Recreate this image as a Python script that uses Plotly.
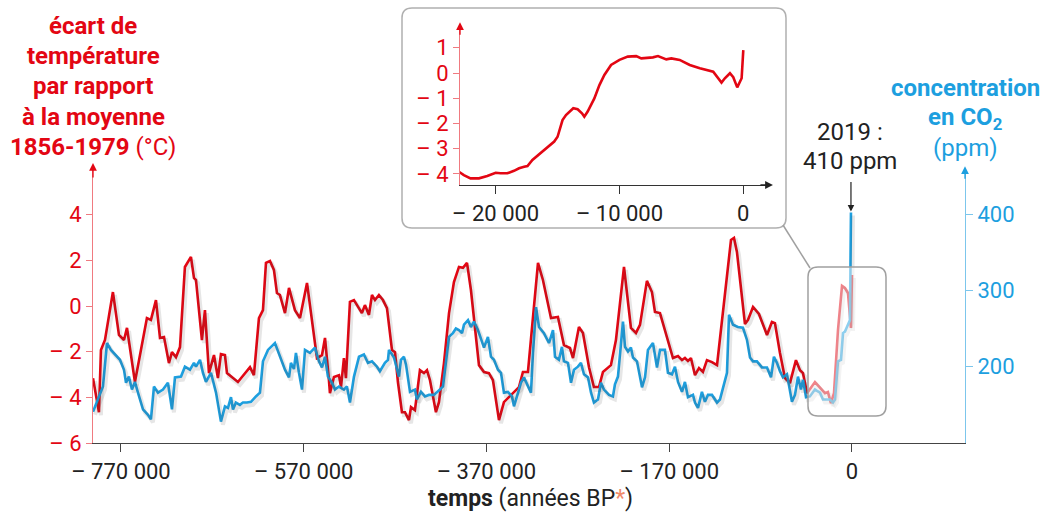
import plotly.graph_objects as go

# ---------------- data ----------------
# main chart: time in thousands of years (position on the drawn time axis)
temp_t = [-830.6, -824.1, -821.9, -817.5, -808.8, -802.2, -796.7, -793.4, -784.7, -778.1,
          -771.6, -767.2, -761.7, -757.3, -752.9, -747.5, -744.2, -739.8, -735.4, -730.0,
          -723.4, -720.1, -717.9, -711.4, -708.1, -703.7, -698.2, -693.9, -690.6, -686.2,
          -684.0, -672.0, -664.3, -658.8, -654.5, -649.0, -644.6, -641.3, -636.9, -632.6,
          -629.3, -626.0, -620.5, -616.1, -609.6, -604.1, -596.4, -591.0, -585.5, -580.0,
          -576.7, -572.4, -571.3, -566.9, -561.4, -559.2, -556.0, -553.8, -549.4, -545.0,
          -536.3, -533.0, -528.6, -525.3, -522.0, -517.7, -513.3, -508.9, -505.6, -503.4,
          -500.1, -496.9, -492.5, -489.2, -484.8, -482.6, -478.3, -472.8, -468.4, -465.1,
          -461.8, -455.3, -452.0, -446.5, -441.0, -435.6, -430.1, -425.7, -421.3, -417.0,
          -408.2, -402.7, -397.3, -392.9, -386.3, -380.9, -375.4, -364.4, -360.1, -354.6,
          -343.6, -338.2, -329.4, -321.8, -315.2, -308.6, -305.3, -298.8, -294.4, -287.8,
          -282.4, -276.9, -272.5, -263.8, -258.3, -249.5, -241.9, -236.4, -232.0, -224.4,
          -218.9, -215.6, -210.1, -202.5, -195.9, -190.4, -186.0, -182.8, -179.5, -176.2,
          -171.8, -167.4, -163.1, -158.7, -153.2, -147.7, -139.0, -132.4, -129.1, -125.9,
          -117.1, -113.8, -108.3, -101.8, -93.0, -87.6, -84.3, -78.8, -73.3, -67.9,
          -61.3, -56.9, -53.6, -49.2, -40.5, -35.0, -29.5, -26.3, -23.0, -19.7,
          -15.3, -10.9, -7.7, -4.4, -1.1, 0.0]
temp_v = [-3.16, -4.65, -1.93, -1.49, 0.61, -1.27, -1.49, -0.96, -3.33, -1.84,
          -0.53, -0.61, 0.26, -1.40, -1.36, -2.50, -2.02, -2.24, -1.80, 1.71,
          2.15, 1.23, 1.14, -1.49, -0.18, -2.94, -2.15, -3.16, -2.11, -2.15,
          -2.94, -3.33, -2.94, -2.68, -3.03, -0.53, -0.18, 1.89, 1.97, 1.58,
          0.57, 0.48, -0.31, 0.79, -0.18, -0.53, 1.01, -0.75, -2.28, -2.15,
          -1.40, -3.25, -3.82, -3.11, -3.03, -3.55, -2.28, -3.16, 0.18, 0.26,
          -0.31, 0.04, -0.39, 0.48, 0.26, 0.48, 0.26, -0.09, -1.05, -1.93,
          -2.02, -3.33, -4.65, -4.65, -5.00, -4.43, -4.56, -2.81, -2.94, -2.81,
          -3.25, -4.65, -4.21, -2.50, -0.31, 1.05, 1.71, 1.67, 1.89, 0.70,
          -2.59, -2.89, -2.94, -3.25, -5.00, -4.21, -3.99, -3.55, -2.89, -2.89,
          1.89, 1.14, -0.53, -0.48, -1.71, -1.84, -2.28, -0.92, -1.18, -2.68,
          -3.55, -3.55, -2.89, -2.59, -1.49, 1.71, -0.96, -1.18, -0.83, 1.10,
          0.61, -0.26, -0.31, -1.40, -2.28, -2.19, -2.37, -2.28, -2.41, -2.28,
          -3.03, -2.72, -2.89, -2.37, -2.46, -2.59, 0.48, 2.89, 2.98, 2.37,
          -0.79, -0.61, -0.04, -0.35, -1.27, -0.70, -0.75, -2.06, -3.16, -3.38,
          -2.37, -2.81, -2.94, -3.82, -3.33, -3.60, -3.82, -3.77, -4.25, -3.82,
          -1.05, 0.88, 0.79, 0.57, -0.96, 1.36]

co2_t = [-830.6, -825.2, -819.7, -815.3, -811.0, -801.1, -796.7, -794.5, -791.3, -788.0,
         -784.7, -781.4, -775.9, -770.5, -767.2, -763.9, -759.5, -754.0, -748.6, -744.2,
         -740.9, -734.3, -730.0, -724.5, -720.1, -717.9, -713.5, -710.3, -707.0, -701.5,
         -696.0, -690.6, -686.2, -682.9, -679.6, -677.4, -674.2, -669.8, -666.5, -662.1,
         -657.7, -652.3, -647.9, -644.6, -639.1, -631.5, -626.0, -620.5, -616.1, -614.0,
         -610.7, -608.5, -605.2, -601.9, -598.6, -593.2, -587.7, -583.3, -580.0, -576.7,
         -573.5, -569.1, -565.8, -561.4, -556.0, -552.7, -549.4, -545.0, -539.5, -534.1,
         -529.7, -525.3, -519.8, -516.6, -511.1, -507.8, -506.7, -501.2, -495.8, -493.6,
         -490.3, -488.1, -483.7, -478.3, -476.1, -471.7, -467.3, -462.9, -457.5, -454.2,
         -450.9, -447.6, -444.3, -441.0, -436.7, -433.4, -430.1, -426.8, -424.6, -420.2,
         -417.0, -413.7, -409.3, -406.0, -402.7, -398.4, -395.1, -391.8, -387.4, -384.1,
         -380.9, -376.5, -372.1, -369.9, -365.5, -362.2, -359.0, -354.6, -351.3, -349.1,
         -345.8, -342.5, -337.1, -331.6, -327.2, -325.0, -320.7, -317.4, -315.2, -310.8,
         -307.5, -304.2, -299.9, -296.6, -293.3, -288.9, -285.6, -282.4, -278.0, -274.7,
         -271.4, -265.9, -261.6, -259.4, -256.1, -250.6, -248.4, -245.1, -241.9, -239.7,
         -235.3, -229.8, -226.5, -223.3, -217.8, -213.4, -210.1, -204.7, -201.4, -197.0,
         -193.7, -190.4, -186.0, -182.8, -179.5, -174.0, -171.8, -168.5, -164.2, -160.9,
         -157.6, -153.2, -147.7, -144.5, -141.2, -136.8, -134.6, -130.2, -124.8, -119.3,
         -114.9, -111.6, -108.3, -104.0, -98.5, -93.0, -88.6, -85.4, -82.1, -78.8,
         -75.5, -71.1, -65.7, -62.4, -59.1, -55.8, -53.6, -50.3, -46.0, -40.5,
         -35.0, -31.7, -27.4, -24.1, -20.8, -18.6, -15.3, -12.0, -9.8, -7.7,
         -5.5, -4.4, -2.2, -1.1]
co2_v = [141, 157, 174, 231, 222, 209, 196, 179, 187, 170,
         180, 166, 144, 137, 131, 174, 166, 170, 179, 144,
         186, 187, 200, 196, 205, 200, 209, 192, 180, 192,
         166, 128, 148, 146, 160, 144, 153, 150, 153, 153,
         154, 161, 166, 207, 222, 231, 212, 196, 186, 205,
         197, 218, 192, 170, 222, 218, 225, 207, 199, 213,
         187, 179, 170, 174, 170, 174, 153, 187, 213, 216,
         205, 207, 200, 194, 205, 209, 222, 212, 187, 209,
         213, 203, 167, 170, 157, 167, 161, 163, 163, 166,
         170, 174, 205, 239, 244, 250, 248, 244, 255, 261,
         252, 259, 248, 235, 225, 239, 213, 209, 196, 192,
         166, 167, 161, 148, 166, 179, 186, 174, 166, 218,
         278, 252, 244, 231, 248, 213, 209, 226, 207, 205,
         179, 196, 200, 205, 190, 186, 166, 153, 157, 179,
         170, 163, 161, 177, 187, 259, 226, 220, 225, 212,
         207, 173, 186, 222, 231, 199, 222, 222, 192, 190,
         200, 180, 167, 180, 160, 163, 153, 146, 167, 154,
         163, 163, 153, 157, 173, 192, 268, 255, 252, 251,
         235, 212, 207, 207, 199, 199, 186, 213, 205, 194,
         186, 190, 154, 163, 187, 170, 183, 160, 161, 170,
         166, 157, 157, 157, 153, 157, 207, 209, 244, 246,
         252, 255, 261, 402]

# inset: last 23 000 years (years BP)
inset_t = [-22975, -22570, -22030, -21350, -20680, -20000, -19600, -19060, -18520, -18110,
           -17700, -17430, -17030, -16220, -15270, -15000, -14600, -14320, -14050, -13730,
           -13380, -13030, -12840, -12570, -12030, -11620, -11220, -10680, -10000, -9330,
           -8650, -8240, -7300, -6890, -6220, -5810, -5140, -4325, -3510, -2430,
           -1760, -1490, -1080, -810, -490, -135, 0]
inset_v = [-3.92, -4.05, -4.18, -4.18, -4.09, -3.96, -3.98, -3.98, -3.88, -3.78,
           -3.72, -3.69, -3.45, -3.12, -2.72, -2.53, -1.87, -1.67, -1.53, -1.40,
           -1.44, -1.60, -1.73, -1.53, -1.01, -0.48, -0.08, 0.32, 0.52, 0.65,
           0.67, 0.58, 0.62, 0.67, 0.54, 0.58, 0.52, 0.32, 0.19, 0.05,
           -0.38, -0.21, -0.01, -0.17, -0.57, -0.21, 0.91]

x_tickvals = [-800, -600, -400, -200, 0]
x_ticktext = ['– 770 000', '– 570 000', '– 370 000', '– 170 000', '0']
t_tickvals = [-6, -4, -2, 0, 2, 4]
t_ticktext = ['– 6', '– 4', '– 2', '0', '2', '4']
c_tickvals = [200, 300, 400]
c_ticktext = ['200', '300', '400']
ix_tickvals = [-20000, -10000, 0]
ix_ticktext = ['– 20 000', '– 10 000', '0']
iy_tickvals = [-4, -3, -2, -1, 0, 1]
iy_ticktext = ['– 4', '– 3', '– 2', '– 1', '0', '1']

# ---------------- style ----------------
W, H = 1048, 513
RED = '#e30613'
RED_AX = '#f07a80'
BLUE = '#1d9fdf'
BLUE_AX = '#7cc6ec'
DARK = '#222222'
SHADOW = 'rgba(60,60,60,0.13)'
FONT = 'Roboto, "DejaVu Sans", sans-serif'

X_RANGE = [-830.6, 123.7]
T_RANGE = [-6, 6]
C_RANGE = [100, 459]
IX_RANGE = [-22880, 1995]
IY_RANGE = [-4.444, 1.706]
MAIN_X_PX = (93, 965)
MAIN_Y_PX = (169, 443)
INS_X_PX = (460, 768)
INS_Y_PX = (30, 185)
SH_DX, SH_DY = 2, 3  # shadow offset in pixels (right, down)


def px(x):
    return x / W


def py(y):
    return 1 - y / H


def shifted(rng, pix_span, dpx, sign):
    per_px = (rng[1] - rng[0]) / (pix_span[1] - pix_span[0])
    return [rng[0] + sign * dpx * per_px, rng[1] + sign * dpx * per_px]


def rounded_rect(x0, y0, x1, y1, r):
    pts = dict(
        a=(px(x0 + r), py(y0)), b=(px(x1 - r), py(y0)), c=(px(x1), py(y0)), d=(px(x1), py(y0 + r)),
        e=(px(x1), py(y1 - r)), f=(px(x1), py(y1)), g=(px(x1 - r), py(y1)),
        h=(px(x0 + r), py(y1)), i=(px(x0), py(y1)), j=(px(x0), py(y1 - r)),
        k=(px(x0), py(y0 + r)), l=(px(x0), py(y0)))
    p = lambda k: f"{pts[k][0]:.5f},{pts[k][1]:.5f}"
    return (f"M {p('a')} L {p('b')} Q {p('c')} {p('d')} L {p('e')} Q {p('f')} {p('g')} "
            f"L {p('h')} Q {p('i')} {p('j')} L {p('k')} Q {p('l')} {p('a')} Z")


fig = go.Figure()

# soft drop shadows (same data, drawn on hidden axes offset by a few pixels)
fig.add_trace(go.Scatter(x=co2_t, y=co2_v, mode='lines', xaxis='x3', yaxis='y5',
                         line=dict(color=SHADOW, width=4), hoverinfo='skip'))
fig.add_trace(go.Scatter(x=temp_t, y=temp_v, mode='lines', xaxis='x3', yaxis='y4',
                         line=dict(color=SHADOW, width=4), hoverinfo='skip'))

fig.add_trace(go.Scatter(x=co2_t, y=co2_v, mode='lines', yaxis='y2', xaxis='x',
                         line=dict(color=BLUE, width=2.6), hoverinfo='skip'))
fig.add_trace(go.Scatter(x=temp_t, y=temp_v, mode='lines', yaxis='y', xaxis='x',
                         line=dict(color=RED, width=2.6), hoverinfo='skip'))
fig.add_trace(go.Scatter(x=inset_t, y=inset_v, mode='lines', xaxis='x2', yaxis='y3',
                         line=dict(color=RED, width=2.6), hoverinfo='skip'))

tickfont = dict(family=FONT, size=22)
hidden = dict(visible=False, showgrid=False, zeroline=False, automargin=False)

fig.update_layout(
    template='none',
    width=W, height=H, margin=dict(l=0, r=0, t=0, b=0, pad=0),
    paper_bgcolor='white', plot_bgcolor='rgba(0,0,0,0)', showlegend=False,
    font=dict(family=FONT, color=DARK),
    xaxis=dict(domain=[px(MAIN_X_PX[0]), px(MAIN_X_PX[1])], range=X_RANGE, anchor='y',
               automargin=False,
               showline=True, linecolor='#444', linewidth=1.2, ticks='outside', ticklen=8,
               tickcolor='#444', tickwidth=1.2, tickvals=x_tickvals, ticktext=x_ticktext,
               tickfont=dict(tickfont, color=DARK), showgrid=False, zeroline=False),
    yaxis=dict(domain=[py(MAIN_Y_PX[1]), py(MAIN_Y_PX[0])], range=T_RANGE, anchor='x',
               automargin=False,
               showline=True, linecolor=RED_AX, linewidth=1.2, ticks='outside', ticklen=6,
               tickcolor=RED_AX, tickvals=t_tickvals, ticktext=t_ticktext,
               tickfont=dict(tickfont, color=RED), showgrid=False, zeroline=False),
    yaxis2=dict(overlaying='y', side='right', range=C_RANGE, anchor='x', automargin=False,
                showline=True, linecolor=BLUE_AX, linewidth=1.2, ticks='outside', ticklen=7,
                tickcolor=BLUE_AX, tickvals=c_tickvals, ticktext=c_ticktext,
                tickfont=dict(tickfont, color=BLUE), showgrid=False, zeroline=False),
    xaxis2=dict(domain=[px(INS_X_PX[0]), px(INS_X_PX[1])], range=IX_RANGE, anchor='y3',
                automargin=False,
                showline=True, linecolor='#333', linewidth=1.2, ticks='outside', ticklen=8,
                tickcolor='#333', tickvals=ix_tickvals, ticktext=ix_ticktext,
                tickfont=dict(tickfont, color=DARK), showgrid=False, zeroline=False),
    yaxis3=dict(domain=[py(INS_Y_PX[1]), py(INS_Y_PX[0])], range=IY_RANGE, anchor='x2',
                automargin=False,
                showline=True, linecolor=RED_AX, linewidth=1.2, ticks='outside', ticklen=6,
                tickcolor=RED_AX, tickvals=iy_tickvals, ticktext=iy_ticktext,
                tickfont=dict(tickfont, color=RED), showgrid=False, zeroline=False),
    # hidden axes used only for the drop shadow
    xaxis3=dict(hidden, overlaying='x', anchor='y4',
                range=shifted(X_RANGE, MAIN_X_PX, SH_DX, -1)),
    yaxis4=dict(hidden, overlaying='y', anchor='x3',
                range=shifted(T_RANGE, MAIN_Y_PX, SH_DY, +1)),
    yaxis5=dict(hidden, overlaying='y', anchor='x3',
                range=shifted(C_RANGE, MAIN_Y_PX, SH_DY, +1)),
)

shapes = [
    dict(type='path', xref='paper', yref='paper', path=rounded_rect(402, 8, 786, 228, 10),
         line=dict(color='#b0b0b0', width=1.5), fillcolor='white', layer='below'),
    dict(type='line', xref='paper', yref='paper', x0=px(783), y0=py(225), x1=px(810), y1=py(268),
         line=dict(color='#a0a0a0', width=1.5), layer='above'),
    dict(type='path', xref='paper', yref='paper', path=rounded_rect(808, 267, 886, 416, 10),
         line=dict(color='#a0a0a0', width=1.5), fillcolor='rgba(255,255,255,0.5)', layer='above'),
]
fig.update_layout(shapes=shapes)


def label(x, y, text, size, color):
    return dict(x=px(x), y=py(y), xref='paper', yref='paper', text=text, showarrow=False,
                xanchor='center', yanchor='middle', font=dict(family=FONT, size=size, color=color))


ann = []
# axis arrowheads
ann.append(dict(x=0, y=1.022, xref='x domain', yref='y domain', ax=0, ay=16, showarrow=True,
                arrowhead=2, arrowsize=1.2, arrowwidth=1.3, arrowcolor=RED, text=''))
ann.append(dict(x=1, y=1.01, xref='x domain', yref='y domain', ax=0, ay=14, showarrow=True,
                arrowhead=2, arrowsize=1.2, arrowwidth=1.3, arrowcolor=BLUE, text=''))
ann.append(dict(x=0, y=1.05, xref='x2 domain', yref='y3 domain', ax=0, ay=14, showarrow=True,
                arrowhead=2, arrowsize=1.2, arrowwidth=1.3, arrowcolor=RED, text=''))
ann.append(dict(x=1.016, y=0, xref='x2 domain', yref='y3 domain', ax=-14, ay=0, showarrow=True,
                arrowhead=2, arrowsize=1.2, arrowwidth=1.3, arrowcolor='#222', text=''))
# 2019 pointer
ann.append(dict(x=co2_t[-1], y=co2_v[-1], xref='x', yref='y2', ax=0, ay=-32, showarrow=True,
                arrowhead=2, arrowsize=1.1, arrowwidth=1.2, arrowcolor='#222', text='',
                standoff=1))
ann.append(label(850, 132, '2019 :', 24, DARK))
ann.append(label(850, 161, '410 ppm', 24, DARK))

# left title
left_lines = ['<b>écart de</b>', '<b>température</b>', '<b>par rapport</b>',
              '<b>à la moyenne</b>', '<b>1856-1979</b> (°C)']
for i, t in enumerate(left_lines):
    ann.append(label(93, 26 + 30.2 * i, t, 24, RED))
right_lines = ['<b>concentration</b>', '<b>en CO<sub>2</sub></b>', '(ppm)']
for i, t in enumerate(right_lines):
    ann.append(label(965, 88 + 30 * i, t, 24, BLUE))
ann.append(label(530, 498, "<b>temps</b> (années BP<span style='color:#f08a6a'>*</span>)", 23, DARK))
fig.update_layout(annotations=ann)

fig.write_html('out.html', config={'displayModeBar': False},
               post_script="document.body.style.margin='0';")
